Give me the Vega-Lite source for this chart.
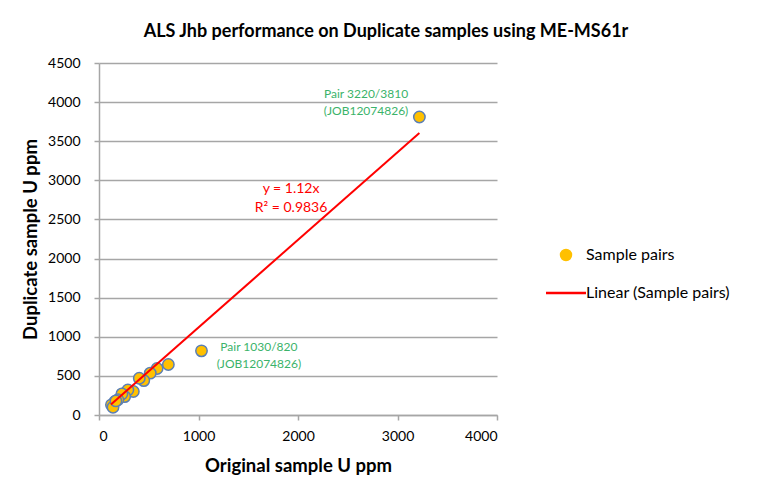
{
  "$schema": "https://vega.github.io/schema/vega-lite/v6.json",
  "width": 398,
  "height": 352,
  "autosize": {"type": "none"},
  "padding": {"left": 99, "top": 63, "right": 260, "bottom": 72},
  "background": "white",
  "config": {"view": {"stroke": null}, "font": "Lato"},
  "title": {
    "text": "ALS Jhb performance on Duplicate samples using ME-MS61r",
    "fontSize": 18,
    "fontWeight": "bold",
    "font": "Lato",
    "color": "#000000",
    "anchor": "middle",
    "dx": 88,
    "offset": 15
  },
  "datasets": {
    "pts": [
      {"orig": 3220, "dup": 3810, "series": "Sample pairs"},
      {"orig": 1030, "dup": 820, "series": "Sample pairs"},
      {"orig": 697, "dup": 645, "series": "Sample pairs"},
      {"orig": 584, "dup": 595, "series": "Sample pairs"},
      {"orig": 515, "dup": 535, "series": "Sample pairs"},
      {"orig": 450, "dup": 440, "series": "Sample pairs"},
      {"orig": 405, "dup": 470, "series": "Sample pairs"},
      {"orig": 345, "dup": 300, "series": "Sample pairs"},
      {"orig": 290, "dup": 320, "series": "Sample pairs"},
      {"orig": 258, "dup": 235, "series": "Sample pairs"},
      {"orig": 230, "dup": 270, "series": "Sample pairs"},
      {"orig": 190, "dup": 195, "series": "Sample pairs"},
      {"orig": 158, "dup": 170, "series": "Sample pairs"},
      {"orig": 125, "dup": 130, "series": "Sample pairs"},
      {"orig": 141, "dup": 100, "series": "Sample pairs"},
      {"orig": 170, "dup": 180, "series": "Sample pairs"}
    ],
    "trend": [
      {"orig": 120, "dup": 134, "series": "Linear (Sample pairs)"},
      {"orig": 3220, "dup": 3606, "series": "Linear (Sample pairs)"}
    ],
    "green": [
      {"x": 2684, "y": 4104, "label": "Pair 3220/3810"},
      {"x": 2684, "y": 3886, "label": "(JOB12074826)"},
      {"x": 1607, "y": 869, "label": "Pair 1030/820"},
      {"x": 1607, "y": 652, "label": "(JOB12074826)"}
    ],
    "red": [
      {"x": 1930, "y": 2890, "label": "y = 1.12x"},
      {"x": 1930, "y": 2647, "label": "R² = 0.9836"}
    ]
  },
  "encoding": {
    "x": {
      "field": "orig", "type": "quantitative",
      "scale": {"domain": [0, 4000], "nice": false},
      "axis": {
        "title": "Original sample U ppm",
        "titleFontSize": 18.5, "titleFontWeight": "bold", "titleColor": "#000000", "titlePadding": 13,
        "values": [0, 1000, 2000, 3000, 4000], "format": "d",
        "labelFontSize": 14, "labelColor": "#000000", "labelPadding": 9,
        "grid": false, "domainColor": "#A6A6A6", "domainWidth": 1.5,
        "tickColor": "#A6A6A6", "tickSize": 5, "tickWidth": 1.5
      }
    },
    "y": {
      "field": "dup", "type": "quantitative",
      "scale": {"domain": [0, 4500], "nice": false},
      "axis": {
        "title": "Duplicate sample U ppm",
        "titleFontSize": 18.5, "titleFontWeight": "bold", "titleColor": "#000000", "titlePadding": 7,
        "values": [0, 500, 1000, 1500, 2000, 2500, 3000, 3500, 4000, 4500], "format": "d",
        "labelFontSize": 14, "labelColor": "#000000", "labelPadding": 14, "labelOverlap": false,
        "grid": true, "gridColor": "#A6A6A6", "gridWidth": 1.5,
        "domainColor": "#A6A6A6", "domainWidth": 1.5,
        "tickColor": "#A6A6A6", "tickSize": 5, "tickWidth": 1.5
      }
    },
    "color": {
      "field": "series", "type": "nominal",
      "scale": {"domain": ["Sample pairs", "Linear (Sample pairs)"], "range": ["#FFC000", "#FF0000"]},
      "legend": {
        "title": null,
        "orient": "none",
        "legendX": 459,
        "legendY": 184,
        "labelFontSize": 16,
        "labelColor": "#000000",
        "labelFont": "Lato",
        "rowPadding": 21,
        "labelOffset": 12,
        "encode": {
          "symbols": {
            "update": {
              "shape": {"signal": "datum.value === 'Sample pairs' ? 'circle' : 'stroke'"},
              "size": {"signal": "datum.value === 'Sample pairs' ? 120 : 1600"},
              "fill": {"signal": "datum.value === 'Sample pairs' ? '#FFC000' : 'transparent'"},
              "stroke": {"signal": "datum.value === 'Sample pairs' ? '#5B7FB5' : '#FF0000'"},
              "strokeWidth": {"signal": "datum.value === 'Sample pairs' ? 1.5 : 2.5"},
              "strokeOpacity": {"value": 1},
              "fillOpacity": {"value": 1},
              "opacity": {"value": 1}
            }
          }
        }
      }
    }
  },
  "layer": [
    {
      "data": {"name": "pts"},
      "mark": {"type": "point", "filled": true, "size": 130, "stroke": "#5B7FB5", "strokeWidth": 1.5, "opacity": 1}
    },
    {
      "data": {"name": "trend"},
      "mark": {"type": "line", "strokeWidth": 2}
    },
    {
      "data": {"name": "green"},
      "mark": {"type": "text", "fontSize": 12, "font": "Lato"},
      "encoding": {
        "x": {"field": "x", "type": "quantitative"},
        "y": {"field": "y", "type": "quantitative"},
        "text": {"field": "label"},
        "color": {"value": "#3BB36A"}
      }
    },
    {
      "data": {"name": "red"},
      "mark": {"type": "text", "fontSize": 14, "font": "Lato"},
      "encoding": {
        "x": {"field": "x", "type": "quantitative"},
        "y": {"field": "y", "type": "quantitative"},
        "text": {"field": "label"},
        "color": {"value": "#FF0000"}
      }
    }
  ]
}
